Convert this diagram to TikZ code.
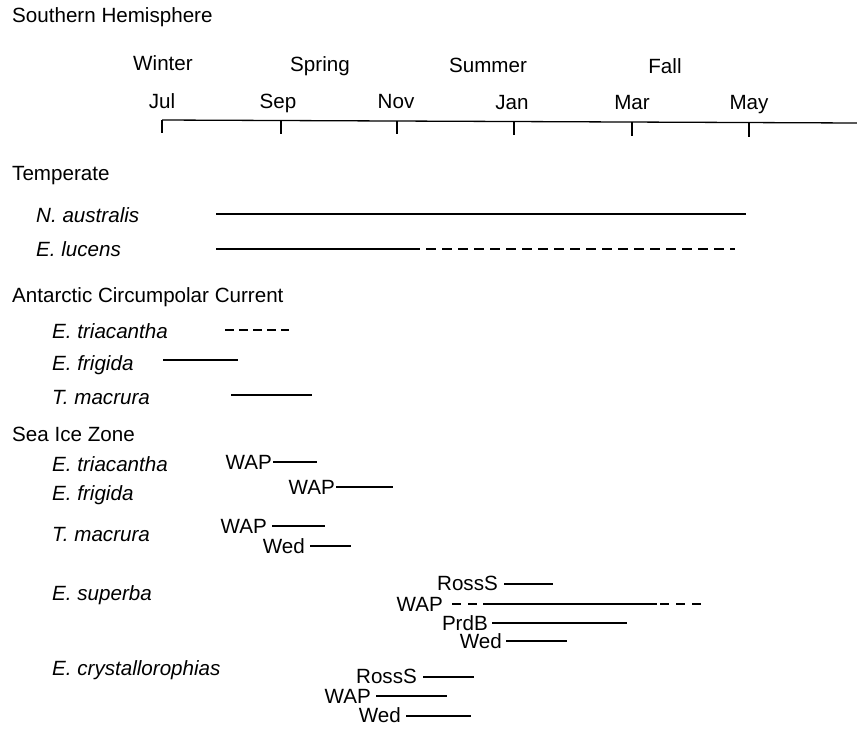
\documentclass[tikz,border=0pt]{standalone}
\usepackage{fontspec}
\setmainfont{Liberation Sans}
\newcommand{\figfont}{\fontsize{20.6}{24}\selectfont}
\begin{document}
\begin{tikzpicture}[x=1pt,y=-1pt,
  lbl/.style={anchor=base west,inner sep=0pt,font=\figfont},
  sp/.style={anchor=base west,inner sep=0pt,font=\figfont\itshape},
  tag/.style={anchor=base east,inner sep=0pt,font=\figfont},
  mon/.style={anchor=base,inner sep=0pt,font=\figfont},
  bar/.style={line width=1.3pt},
  dbar/.style={bar,dash pattern=on 10pt off 6pt},
  sbar/.style={bar,dash pattern=on 9pt off 5pt},
  wbar/.style={bar,dash pattern=on 9pt off 7pt}]
\useasboundingbox (0,0) rectangle (857,729);

% title
\node[lbl] (title) at (12,22) {Southern Hemisphere};

% seasons
\node[mon] (winter) at (163,70) {Winter};
\node[mon] (spring) at (320,71) {Spring};
\node[mon] (summer) at (488,72) {Summer};
\node[mon] (fall) at (665,73) {Fall};

% months
\node[mon] (jul) at (162,108) {Jul};
\node[mon] (sep) at (278,108) {Sep};
\node[mon] (nov) at (396,108) {Nov};
\node[mon] (jan) at (512,109) {Jan};
\node[mon] (mar) at (632,109) {Mar};
\node[mon] (may) at (749,109) {May};

% axis
\coordinate (ax0) at (162,120);
\coordinate (ax1) at (857,123);
\draw[bar] (ax0) -- (ax1);
\coordinate (t1a) at (162,120);   \coordinate (t1b) at (162,133);
\coordinate (t2a) at (281,120.5); \coordinate (t2b) at (281,134);
\coordinate (t3a) at (397,121);   \coordinate (t3b) at (397,134);
\coordinate (t4a) at (514,121.5); \coordinate (t4b) at (514,135);
\coordinate (t5a) at (632,122);   \coordinate (t5b) at (632,136);
\coordinate (t6a) at (749,122.5); \coordinate (t6b) at (749,137);
\foreach \i in {1,...,6} { \draw[bar] (t\i a) -- (t\i b); }

% Temperate
\node[lbl] (temp) at (12,180) {Temperate};
\node[sp] (naus) at (36,222) {N. australis};
\coordinate (na0) at (216,214); \coordinate (na1) at (746,214);
\draw[bar] (na0) -- (na1);
\node[sp] (eluc) at (36,256) {E. lucens};
\coordinate (el0) at (216,249); \coordinate (el1) at (410,249); \coordinate (el2) at (735,249);
\draw[bar] (el0) -- (el1);
\draw[dbar] (el1) -- (el2);

% ACC
\node[lbl] (acc) at (12,302) {Antarctic Circumpolar Current};
\node[sp] (atri) at (52,338) {E. triacantha};
\coordinate (at0) at (225,330); \coordinate (at1) at (289,330);
\draw[sbar] (at0) -- (at1);
\node[sp] (afri) at (52,370) {E. frigida};
\coordinate (af0) at (163,360); \coordinate (af1) at (238,360);
\draw[bar] (af0) -- (af1);
\node[sp] (amac) at (52,404) {T. macrura};
\coordinate (am0) at (231,395); \coordinate (am1) at (312,395);
\draw[bar] (am0) -- (am1);

% Sea Ice Zone
\node[lbl] (siz) at (12,441) {Sea Ice Zone};
\node[sp] (stri) at (52,471) {E. triacantha};
\node[tag] (stwap) at (272,469) {WAP};
\coordinate (st0) at (273,462); \coordinate (st1) at (317,462);
\draw[bar] (st0) -- (st1);

\node[sp] (sfri) at (52,500) {E. frigida};
\node[tag] (sfwap) at (335,494) {WAP};
\coordinate (sf0) at (336,487); \coordinate (sf1) at (393,487);
\draw[bar] (sf0) -- (sf1);

\node[sp] (smac) at (52,541) {T. macrura};
\node[tag] (smwap) at (267,533) {WAP};
\coordinate (smw0) at (272,526); \coordinate (smw1) at (325,526);
\draw[bar] (smw0) -- (smw1);
\node[tag] (smwed) at (305,553) {Wed};
\coordinate (sme0) at (310,546); \coordinate (sme1) at (351,546);
\draw[bar] (sme0) -- (sme1);

\node[sp] (ssup) at (52,600) {E. superba};
\node[tag] (surs) at (498,590) {RossS};
\coordinate (sur0) at (504,584); \coordinate (sur1) at (553,584);
\draw[bar] (sur0) -- (sur1);
\node[tag] (suwap) at (443,611) {WAP};
\coordinate (suw0) at (452,604); \coordinate (suw1) at (478,604);
\coordinate (suw2) at (483,604); \coordinate (suw3) at (657,604);
\coordinate (suw4) at (660,604); \coordinate (suw5) at (705,604);
\draw[wbar] (suw0) -- (suw1);
\draw[bar] (suw2) -- (suw3);
\draw[wbar] (suw4) -- (suw5);
\node[tag] (suprd) at (488,630) {PrdB};
\coordinate (sup0) at (492,623); \coordinate (sup1) at (627,623);
\draw[bar] (sup0) -- (sup1);
\node[tag] (suwed) at (502,648) {Wed};
\coordinate (sue0) at (506,641); \coordinate (sue1) at (567,641);
\draw[bar] (sue0) -- (sue1);

\node[sp] (scry) at (52,675) {E. crystallorophias};
\node[tag] (scrs) at (417,683) {RossS};
\coordinate (scr0) at (423,677); \coordinate (scr1) at (474,677);
\draw[bar] (scr0) -- (scr1);
\node[tag] (scwap) at (371,703) {WAP};
\coordinate (scw0) at (376,696); \coordinate (scw1) at (447,696);
\draw[bar] (scw0) -- (scw1);
\node[tag] (scwed) at (401,722) {Wed};
\coordinate (sce0) at (406,716); \coordinate (sce1) at (471,716);
\draw[bar] (sce0) -- (sce1);
\end{tikzpicture}
\end{document}
